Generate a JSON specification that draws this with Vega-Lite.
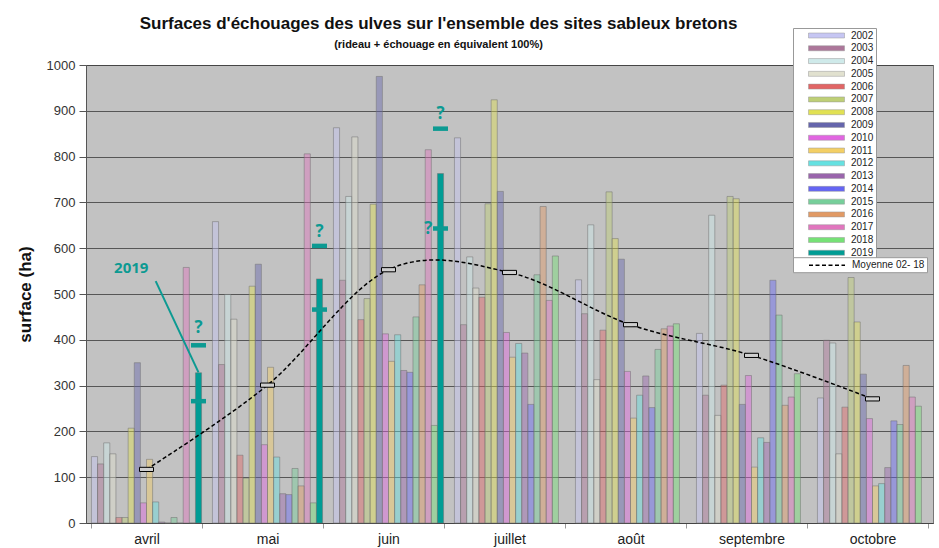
{
  "$schema": "https://vega.github.io/schema/vega-lite/v6.json",
  "width": 847,
  "height": 458,
  "autosize": {"type": "none"},
  "padding": {"left": 86, "top": 65, "right": 6, "bottom": 25},
  "background": "white",
  "title": {
    "text": "Surfaces d'échouages des ulves sur l'ensemble des sites sableux bretons",
    "subtitle": "(rideau + échouage en équivalent 100%)",
    "anchor": "middle",
    "dx": -71,
    "offset": -23,
    "font": "Liberation Sans",
    "fontSize": 17,
    "fontWeight": "bold",
    "color": "#111",
    "subtitleFont": "Liberation Sans",
    "subtitleFontSize": 11,
    "subtitleFontWeight": "bold",
    "subtitleColor": "#111",
    "subtitlePadding": 6
  },
  "config": {
    "font": "Liberation Sans",
    "view": {"fill": "#c2c2c2", "stroke": "#777"}
  },
  "datasets": {
    "bars": [
      {"month": "avril", "year": "2002", "value": 145}, {"month": "avril", "year": "2003", "value": 129}, {"month": "avril", "year": "2004", "value": 175}, {"month": "avril", "year": "2005", "value": 151}, {"month": "avril", "year": "2006", "value": 12}, {"month": "avril", "year": "2007", "value": 12}, {"month": "avril", "year": "2008", "value": 207}, {"month": "avril", "year": "2009", "value": 350}, {"month": "avril", "year": "2010", "value": 44}, {"month": "avril", "year": "2011", "value": 139}, {"month": "avril", "year": "2012", "value": 46}, {"month": "avril", "year": "2013", "value": 2}, {"month": "avril", "year": "2014", "value": 0}, {"month": "avril", "year": "2015", "value": 12}, {"month": "avril", "year": "2016", "value": 0}, {"month": "avril", "year": "2017", "value": 558}, {"month": "avril", "year": "2018", "value": 0}, {"month": "avril", "year": "2019", "value": 328},
      {"month": "mai", "year": "2002", "value": 658}, {"month": "mai", "year": "2003", "value": 346}, {"month": "mai", "year": "2004", "value": 499}, {"month": "mai", "year": "2005", "value": 445}, {"month": "mai", "year": "2006", "value": 148}, {"month": "mai", "year": "2007", "value": 98}, {"month": "mai", "year": "2008", "value": 517}, {"month": "mai", "year": "2009", "value": 565}, {"month": "mai", "year": "2010", "value": 171}, {"month": "mai", "year": "2011", "value": 340}, {"month": "mai", "year": "2012", "value": 144}, {"month": "mai", "year": "2013", "value": 64}, {"month": "mai", "year": "2014", "value": 62}, {"month": "mai", "year": "2015", "value": 119}, {"month": "mai", "year": "2016", "value": 81}, {"month": "mai", "year": "2017", "value": 806}, {"month": "mai", "year": "2018", "value": 44}, {"month": "mai", "year": "2019", "value": 533},
      {"month": "juin", "year": "2002", "value": 863}, {"month": "juin", "year": "2003", "value": 530}, {"month": "juin", "year": "2004", "value": 713}, {"month": "juin", "year": "2005", "value": 843}, {"month": "juin", "year": "2006", "value": 444}, {"month": "juin", "year": "2007", "value": 490}, {"month": "juin", "year": "2008", "value": 696}, {"month": "juin", "year": "2009", "value": 975}, {"month": "juin", "year": "2010", "value": 413}, {"month": "juin", "year": "2011", "value": 353}, {"month": "juin", "year": "2012", "value": 411}, {"month": "juin", "year": "2013", "value": 333}, {"month": "juin", "year": "2014", "value": 329}, {"month": "juin", "year": "2015", "value": 450}, {"month": "juin", "year": "2016", "value": 520}, {"month": "juin", "year": "2017", "value": 815}, {"month": "juin", "year": "2018", "value": 213}, {"month": "juin", "year": "2019", "value": 763},
      {"month": "juillet", "year": "2002", "value": 841}, {"month": "juillet", "year": "2003", "value": 433}, {"month": "juillet", "year": "2004", "value": 581}, {"month": "juillet", "year": "2005", "value": 513}, {"month": "juillet", "year": "2006", "value": 493}, {"month": "juillet", "year": "2007", "value": 697}, {"month": "juillet", "year": "2008", "value": 924}, {"month": "juillet", "year": "2009", "value": 724}, {"month": "juillet", "year": "2010", "value": 416}, {"month": "juillet", "year": "2011", "value": 362}, {"month": "juillet", "year": "2012", "value": 392}, {"month": "juillet", "year": "2013", "value": 371}, {"month": "juillet", "year": "2014", "value": 259}, {"month": "juillet", "year": "2015", "value": 542}, {"month": "juillet", "year": "2016", "value": 691}, {"month": "juillet", "year": "2017", "value": 486}, {"month": "juillet", "year": "2018", "value": 583},
      {"month": "août", "year": "2002", "value": 531}, {"month": "août", "year": "2003", "value": 457}, {"month": "août", "year": "2004", "value": 651}, {"month": "août", "year": "2005", "value": 313}, {"month": "août", "year": "2006", "value": 421}, {"month": "août", "year": "2007", "value": 723}, {"month": "août", "year": "2008", "value": 621}, {"month": "août", "year": "2009", "value": 576}, {"month": "août", "year": "2010", "value": 331}, {"month": "août", "year": "2011", "value": 229}, {"month": "août", "year": "2012", "value": 279}, {"month": "août", "year": "2013", "value": 321}, {"month": "août", "year": "2014", "value": 252}, {"month": "août", "year": "2015", "value": 379}, {"month": "août", "year": "2016", "value": 424}, {"month": "août", "year": "2017", "value": 430}, {"month": "août", "year": "2018", "value": 435},
      {"month": "septembre", "year": "2002", "value": 414}, {"month": "septembre", "year": "2003", "value": 279}, {"month": "septembre", "year": "2004", "value": 672}, {"month": "septembre", "year": "2005", "value": 235}, {"month": "septembre", "year": "2006", "value": 301}, {"month": "septembre", "year": "2007", "value": 713}, {"month": "septembre", "year": "2008", "value": 708}, {"month": "septembre", "year": "2009", "value": 259}, {"month": "septembre", "year": "2010", "value": 322}, {"month": "septembre", "year": "2011", "value": 122}, {"month": "septembre", "year": "2012", "value": 186}, {"month": "septembre", "year": "2013", "value": 176}, {"month": "septembre", "year": "2014", "value": 530}, {"month": "septembre", "year": "2015", "value": 454}, {"month": "septembre", "year": "2016", "value": 257}, {"month": "septembre", "year": "2017", "value": 275}, {"month": "septembre", "year": "2018", "value": 326},
      {"month": "octobre", "year": "2002", "value": 273}, {"month": "octobre", "year": "2003", "value": 399}, {"month": "octobre", "year": "2004", "value": 393}, {"month": "octobre", "year": "2005", "value": 151}, {"month": "octobre", "year": "2006", "value": 253}, {"month": "octobre", "year": "2007", "value": 536}, {"month": "octobre", "year": "2008", "value": 439}, {"month": "octobre", "year": "2009", "value": 325}, {"month": "octobre", "year": "2010", "value": 228}, {"month": "octobre", "year": "2011", "value": 81}, {"month": "octobre", "year": "2012", "value": 86}, {"month": "octobre", "year": "2013", "value": 121}, {"month": "octobre", "year": "2014", "value": 223}, {"month": "octobre", "year": "2015", "value": 215}, {"month": "octobre", "year": "2016", "value": 344}, {"month": "octobre", "year": "2017", "value": 275}, {"month": "octobre", "year": "2018", "value": 255}
    ],
    "avg": [
      {"month": "avril", "value": 117}, {"month": "mai", "value": 301}, {"month": "juin", "value": 553}, {"month": "juillet", "value": 547}, {"month": "août", "value": 433}, {"month": "septembre", "value": 366}, {"month": "octobre", "value": 271}
    ],
    "marks2019": [
      {"month": "avril", "year": "2019", "value": 266}, {"month": "mai", "year": "2019", "value": 466}, {"month": "juin", "year": "2019", "value": 643},
      {"month": "avril", "year": "2019", "value": 388}, {"month": "mai", "year": "2019", "value": 605}, {"month": "juin", "year": "2019", "value": 861}
    ],
    "questions": [
      {"month": "avril", "year": "2019", "value": 425, "label": "?"}, {"month": "mai", "year": "2019", "value": 636, "label": "?"}, {"month": "juin", "year": "2019", "value": 894, "label": "?"}, {"month": "juin", "year": "2017", "value": 643, "label": "?"}
    ],
    "label2019": [{"month": "avril", "year": "2008", "value": 556, "label": "2019"}],
    "pointer": [{"month": "avril", "year": "2012", "value": 528}, {"month": "avril", "year": "2019", "value": 329}]
  },
  "layer": [
    {
      "data": {"name": "bars"},
      "mark": {"type": "bar", "stroke": "#707070", "strokeWidth": 0.5},
      "encoding": {
        "x": {"field": "month", "type": "nominal", "sort": null,
          "scale": {"domain": ["avril", "mai", "juin", "juillet", "août", "septembre", "octobre"], "paddingInner": 0.09, "paddingOuter": 0.045},
          "axis": {"title": null, "labelAngle": 0, "labelFontSize": 14, "labelColor": "#222", "labelPadding": 4, "tickBand": "extent", "tickSize": 5, "tickColor": "#999", "domainColor": "#444"}},
        "xOffset": {"field": "year", "type": "nominal",
          "scale": {"domain": ["2002","2003","2004","2005","2006","2007","2008","2009","2010","2011","2012","2013","2014","2015","2016","2017","2018","2019"]}},
        "y": {"field": "value", "type": "quantitative",
          "scale": {"domain": [0, 1000], "nice": false},
          "axis": {"title": "surface (ha)", "format": "d", "values": [0,100,200,300,400,500,600,700,800,900,1000], "grid": true, "gridColor": "#3a3a3a", "gridWidth": 0.8, "labelFontSize": 13, "labelColor": "#333", "labelPadding": 4, "tickSize": 7, "tickColor": "#555", "domainColor": "#555", "titleFontSize": 17, "titleFontWeight": "bold", "titleColor": "#111", "titlePadding": 12}},
        "color": {"field": "year", "type": "nominal",
          "scale": {
            "domain": ["2002","2003","2004","2005","2006","2007","2008","2009","2010","2011","2012","2013","2014","2015","2016","2017","2018","2019"],
            "range": ["#c6c6f3","#ac769a","#cfeaea","#e1e1cf","#e16565","#becf76","#e1e153","#6565ac","#e165e1","#f3cf65","#65e1e1","#9a65ac","#6565f3","#76cf9a","#e19a65","#e176be","#76e176","#009c94"]
          },
          "legend": {
            "orient": "none", "legendX": 707, "legendY": -37,
            "title": null, "fillColor": "white", "strokeColor": "#999", "padding": 2,
            "labelFontSize": 10, "labelColor": "#222", "symbolSize": 100, "labelOffset": 45, "rowPadding": 1.78,
            "symbolType": "M1.6,-0.5H8.8V0.5H1.6Z", "symbolStrokeWidth": 0.5, "symbolStrokeColor": "#999"
          }
        },
        "fillOpacity": {"condition": {"test": "datum.year === '2019'", "value": 1}, "value": 0.45}
      }
    },
    {
      "data": {"name": "avg"},
      "mark": {"type": "line", "interpolate": "cardinal", "color": "black", "strokeWidth": 1.5},
      "encoding": {
        "x": {"field": "month", "type": "nominal", "sort": null},
        "y": {"field": "value", "type": "quantitative"},
        "strokeDash": {"datum": "Moyenne 02- 18", "type": "nominal",
          "scale": {"domain": ["Moyenne 02- 18"], "range": [[4, 2.5]]},
          "legend": {
            "orient": "none", "legendX": 707, "legendY": 192.2,
            "title": null, "fillColor": "white", "strokeColor": "#999", "padding": 2,
            "labelFontSize": 10, "labelColor": "#222", "symbolSize": 100, "labelOffset": 45,
            "symbolType": "M1.6,0H8.8", "symbolStrokeColor": "black", "symbolStrokeWidth": 1.5, "symbolDash": [3, 2]
          }
        }
      }
    },
    {
      "data": {"name": "avg"},
      "mark": {"type": "point", "shape": "M-1,-0.3H1V0.3H-1Z", "size": 196, "filled": true, "fill": "#cfcfcf", "stroke": "black", "strokeWidth": 1, "opacity": 1},
      "encoding": {
        "x": {"field": "month", "type": "nominal", "sort": null},
        "y": {"field": "value", "type": "quantitative"}
      }
    },
    {
      "data": {"name": "marks2019"},
      "mark": {"type": "point", "shape": "M-1,-0.3H1V0.3H-1Z", "size": 225, "filled": true, "color": "#0c9a92", "opacity": 1},
      "encoding": {
        "x": {"field": "month", "type": "nominal", "sort": null},
        "xOffset": {"field": "year", "type": "nominal"},
        "y": {"field": "value", "type": "quantitative"}
      }
    },
    {
      "data": {"name": "questions"},
      "mark": {"type": "text", "font": "Open Sans", "fontSize": 17, "fontWeight": "bold", "color": "#0c9a92", "baseline": "middle"},
      "encoding": {
        "x": {"field": "month", "type": "nominal", "sort": null},
        "xOffset": {"field": "year", "type": "nominal"},
        "y": {"field": "value", "type": "quantitative"},
        "text": {"field": "label"}
      }
    },
    {
      "data": {"name": "label2019"},
      "mark": {"type": "text", "font": "Open Sans", "fontSize": 15, "fontWeight": "bold", "color": "#0c9a92", "baseline": "middle"},
      "encoding": {
        "x": {"field": "month", "type": "nominal", "sort": null},
        "xOffset": {"field": "year", "type": "nominal"},
        "y": {"field": "value", "type": "quantitative"},
        "text": {"field": "label"}
      }
    },
    {
      "data": {"name": "pointer"},
      "mark": {"type": "line", "color": "#0c9a92", "strokeWidth": 2},
      "encoding": {
        "x": {"field": "month", "type": "nominal", "sort": null},
        "xOffset": {"field": "year", "type": "nominal"},
        "y": {"field": "value", "type": "quantitative"}
      }
    }
  ]
}
